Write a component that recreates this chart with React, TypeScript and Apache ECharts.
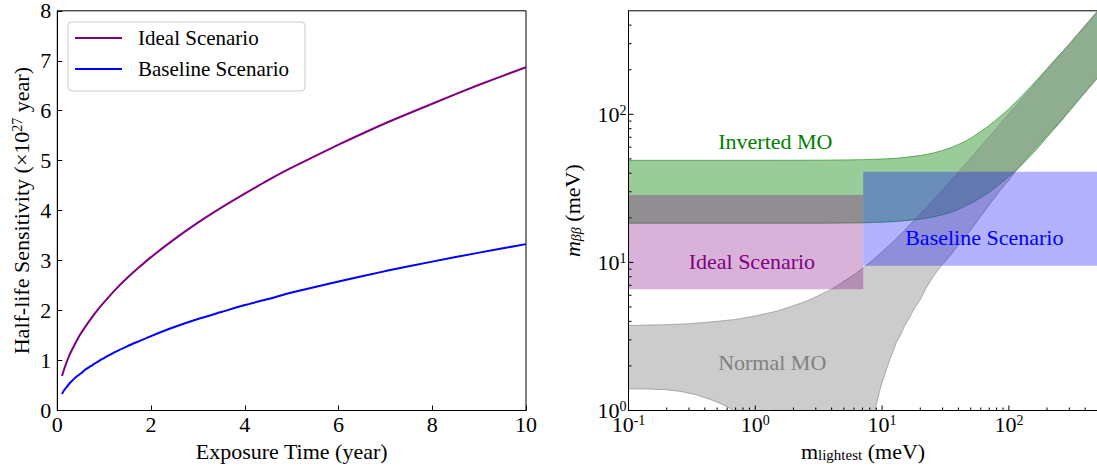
import React, { useEffect, useRef } from 'react';
import * as echarts from 'echarts';

const FONT = "'Liberation Serif', 'DejaVu Serif', serif";

// ---------- Left panel: half-life sensitivity vs exposure time ----------
const EXPOSURE_YEARS = [0.1, 0.12, 0.15, 0.2, 0.25, 0.3, 0.4, 0.5, 0.6, 0.75, 0.9, 1, 1.25, 1.5, 1.75, 2, 2.5, 3, 3.5, 4, 4.5, 5, 6, 7, 8, 9, 10];
const IDEAL_SENS = [0.69, 0.75, 0.84, 0.97, 1.09, 1.19, 1.37, 1.54, 1.68, 1.88, 2.06, 2.17, 2.43, 2.66, 2.87, 3.07, 3.43, 3.76, 4.06, 4.34, 4.61, 4.86, 5.32, 5.75, 6.14, 6.52, 6.87];
const BASELINE_SENS = [0.33, 0.365, 0.41, 0.47, 0.53, 0.58, 0.67, 0.74, 0.82, 0.91, 1.0, 1.05, 1.18, 1.29, 1.39, 1.49, 1.67, 1.83, 1.97, 2.11, 2.23, 2.36, 2.58, 2.79, 2.98, 3.16, 3.33];
const LEFT_SERIES_NAMES = ['Ideal Scenario', 'Baseline Scenario'];

// ---------- Right panel: m_bb vs m_lightest ----------
// Inverted ordering band
const IO_X = [0.1, 1, 3, 5, 7, 10, 13, 16, 20, 25, 30, 35, 40, 45, 50, 60, 70, 80, 90, 100, 120, 150, 180, 214, 250, 300, 400, 500];
const IO_UPPER = [48.9, 48.9, 49, 49.2, 49.4, 49.9, 50.5, 51.4, 52.7, 54.6, 57, 59.6, 62.6, 65.6, 69, 76.5, 84, 92.3, 100.5, 109, 127, 155, 184, 217, 252, 297, 395, 493];
const IO_LOWER = [18.4, 18.4, 18.4, 18.45, 18.5, 18.7, 18.9, 19.2, 19.6, 20.2, 21, 21.8, 22.8, 23.9, 25, 27.3, 29.7, 32.5, 35.2, 38, 43.5, 53, 63, 75, 87, 105, 141, 176];

// Normal ordering band
const NO_UP_X = [0.1, 0.2, 0.3, 0.5, 0.7, 1, 1.5, 2, 2.5, 3, 4, 5, 6, 7, 8.5, 10, 12, 15, 20, 25, 30, 40, 50, 70, 100, 150, 200, 300, 500];
const NO_UPPER = [3.75, 3.8, 3.85, 4.0, 4.12, 4.35, 4.7, 5.1, 5.45, 5.85, 6.6, 7.45, 8.25, 9.1, 10.4, 11.8, 13.6, 16.4, 21.3, 26, 30.8, 40.7, 50.7, 70.6, 100.5, 150, 200, 300, 500];
const NO_LOW_R_X = [500, 400, 300, 250, 200, 155, 120, 100, 85, 70, 60, 50, 40, 35, 28.7, 25, 22, 20, 18, 16.6, 15, 14, 13, 12.3, 11.5, 10.5, 10, 9.5, 9, 8.8, 8.5, 8.2];
const NO_LOW_R = [176, 141, 106, 88, 72, 57, 44, 36, 30.5, 24.5, 20.5, 16.5, 13.1, 11.3, 9.3, 7.9, 6.6, 5.6, 4.9, 4.3, 3.7, 3.25, 2.9, 2.55, 2.2, 1.75, 1.55, 1.32, 1.1, 1.0, 0.85, 0.6];
const NO_LOW_L_X = [1.0, 0.85, 0.75, 0.67, 0.6, 0.5, 0.45, 0.4, 0.35, 0.3, 0.25, 0.2, 0.15, 0.1];
const NO_LOW_L = [0.6, 0.85, 0.93, 1.0, 1.06, 1.14, 1.18, 1.22, 1.27, 1.31, 1.35, 1.38, 1.395, 1.40];

// Sensitivity boxes
const IDEAL_BOX_X = [0.1, 7.1];
const IDEAL_BOX_Y = [6.6, 28.5];
const BASE_BOX_X = [7.1, 500];
const BASE_BOX_Y = [9.5, 41];

// Annotations (data coordinates)
const ANNOT_TEXT = ['Inverted MO', 'Ideal Scenario', 'Baseline Scenario', 'Normal MO'];
const ANNOT_X = [1.44, 0.94, 64, 1.36];
const ANNOT_Y = [65.4, 10.1, 14.7, 2.12];
const ANNOT_COLOR = ['#008000', '#800080', '#0000ff', '#808080'];

// Log axis ticks
const X_MAJOR = [0.1, 1, 10, 100];
const X_MINOR = [0.2, 0.3, 0.4, 0.5, 0.6, 0.7, 0.8, 0.9, 2, 3, 4, 5, 6, 7, 8, 9, 20, 30, 40, 50, 60, 70, 80, 90, 200, 300, 400];
const Y_MAJOR = [1, 10, 100];
const Y_MINOR = [2, 3, 4, 5, 6, 7, 8, 9, 20, 30, 40, 50, 60, 70, 80, 90, 200, 300, 400];

const X_MIN_R = 0.1;
const X_MAX_R = 500;
const Y_MIN_R = 1;
const Y_MAX_R = 500;

function polygonSeries(name: string, verts: number[][], fill: string, stroke: string) {
  return {
    name,
    type: 'custom',
    xAxisIndex: 1,
    yAxisIndex: 1,
    clip: true,
    silent: true,
    data: verts,
    renderItem: (params: any, api: any) => {
      if (params.dataIndex !== 0) return null;
      const pts = verts.map((v) => api.coord(v));
      return {
        type: 'polygon',
        shape: { points: pts },
        style: { fill, stroke, lineWidth: 1 },
      };
    },
  };
}

function boxSeries(name: string, bx: number[], by: number[], fill: string) {
  return {
    name,
    type: 'custom',
    xAxisIndex: 1,
    yAxisIndex: 1,
    clip: true,
    silent: true,
    data: [[bx[0], by[0], bx[1], by[1]]],
    renderItem: (params: any, api: any) => {
      const p0 = api.coord([api.value(0), api.value(1)]);
      const p1 = api.coord([api.value(2), api.value(3)]);
      return {
        type: 'rect',
        shape: {
          x: Math.min(p0[0], p1[0]),
          y: Math.min(p0[1], p1[1]),
          width: Math.abs(p1[0] - p0[0]),
          height: Math.abs(p1[1] - p0[1]),
        },
        style: { fill },
      };
    },
  };
}

function tickSeries(name: string, values: number[], dir: 'x' | 'y', len: number) {
  return {
    name,
    type: 'custom',
    xAxisIndex: 1,
    yAxisIndex: 1,
    silent: true,
    z: 10,
    data: values.map((v) => (dir === 'x' ? [v, Y_MIN_R] : [X_MIN_R, v])),
    renderItem: (params: any, api: any) => {
      const p = api.coord([api.value(0), api.value(1)]);
      const shape =
        dir === 'x'
          ? { x1: p[0], y1: p[1], x2: p[0], y2: p[1] - len }
          : { x1: p[0], y1: p[1], x2: p[0] + len, y2: p[1] };
      return { type: 'line', shape, style: { stroke: '#000', lineWidth: 1 } };
    },
  };
}

const logLabelFormatter = (v: number) => {
  const l = Math.log10(v);
  const e = Math.round(l);
  if (Math.abs(l - e) > 1e-6) return '';
  return `{b|10}{s|${e}}`;
};

const logRich = {
  b: { fontSize: 22, lineHeight: 22, fontFamily: FONT, color: '#000' },
  s: { fontSize: 14, lineHeight: 14, verticalAlign: 'top', fontFamily: FONT, color: '#000' },
};

export default function App() {
  const ref = useRef<HTMLDivElement>(null);

  useEffect(() => {
    if (!ref.current) return;
    const chart = echarts.init(ref.current, null, { renderer: 'svg', width: 1097, height: 468 });

    const noVerts: number[][] = [
      ...NO_UP_X.map((x, i) => [x, NO_UPPER[i]]),
      ...NO_LOW_R_X.map((x, i) => [x, NO_LOW_R[i]]),
      ...NO_LOW_L_X.map((x, i) => [x, NO_LOW_L[i]]),
    ];
    const ioVerts: number[][] = [
      ...IO_X.map((x, i) => [x, IO_UPPER[i]]),
      ...IO_X.map((x, i) => [x, IO_LOWER[i]]).reverse(),
    ];

    const gridCommon = {
      show: true,
      borderColor: '#000',
      borderWidth: 1,
      backgroundColor: 'transparent',
      containLabel: false,
      outerBoundsMode: 'none',
    };

    const nameStyle = { color: '#000', fontSize: 22, fontFamily: FONT, lineHeight: 22 };

    const option: any = {
      animation: false,
      textStyle: { fontFamily: FONT },
      grid: [
        { ...gridCommon, left: 57.3, top: 10.8, width: 468.7, height: 399.7 },
        { ...gridCommon, left: 628.5, top: 10.8, width: 469, height: 399.7 },
      ],
      legend: {
        data: LEFT_SERIES_NAMES,
        orient: 'vertical',
        left: 68,
        top: 22,
        padding: [5, 16, 11, 7],
        icon: 'rect',
        itemWidth: 47,
        itemHeight: 2,
        itemGap: 9,
        borderColor: '#cccccc',
        borderWidth: 1,
        borderRadius: 4,
        backgroundColor: 'rgba(255,255,255,0.8)',
        selectedMode: false,
        textStyle: { fontSize: 21, fontFamily: FONT, color: '#000', lineHeight: 22, padding: [0, 0, 0, 11] },
      },
      xAxis: [
        {
          gridIndex: 0,
          type: 'value',
          min: 0,
          max: 10,
          interval: 2,
          axisLine: { show: true, onZero: false, lineStyle: { color: '#000', width: 1 } },
          axisTick: { show: true, inside: true, length: 5, lineStyle: { color: '#000', width: 1 } },
          axisLabel: { color: '#000', fontSize: 22, fontFamily: FONT, margin: 3 },
          splitLine: { show: false },
          name: 'Exposure Time (year)',
          nameLocation: 'middle',
          nameGap: 30,
          nameMoveOverlap: false,
          nameTextStyle: nameStyle,
        },
        {
          gridIndex: 1,
          type: 'log',
          logBase: 10,
          min: X_MIN_R,
          max: X_MAX_R,
          z: 10,
          axisLine: { show: true, onZero: false, lineStyle: { color: '#000', width: 1 } },
          axisTick: { show: false },
          minorTick: { show: false },
          axisLabel: { formatter: logLabelFormatter, rich: logRich, margin: 3 },
          splitLine: { show: false },
          name: 'm{sub|lightest} (meV)',
          nameLocation: 'middle',
          nameGap: 30,
          nameMoveOverlap: false,
          nameTextStyle: {
            ...nameStyle,
            rich: {
              sub: { fontSize: 15, lineHeight: 15, verticalAlign: 'bottom', fontFamily: FONT, color: '#000' },
            },
          },
        },
      ],
      yAxis: [
        {
          gridIndex: 0,
          type: 'value',
          min: 0,
          max: 8,
          interval: 1,
          axisLine: { show: true, onZero: false, lineStyle: { color: '#000', width: 1 } },
          axisTick: { show: true, inside: true, length: 5, lineStyle: { color: '#000', width: 1 } },
          axisLabel: { color: '#000', fontSize: 22, fontFamily: FONT, margin: 6, lineHeight: 20 },
          splitLine: { show: false },
          name: 'Half-life Sensitivity (×10{sup|27} year)',
          nameLocation: 'middle',
          nameRotate: 90,
          nameGap: 25,
          nameMoveOverlap: false,
          nameTextStyle: {
            ...nameStyle,
            rich: {
              sup: { fontSize: 14, lineHeight: 14, verticalAlign: 'top', fontFamily: FONT, color: '#000' },
            },
          },
        },
        {
          gridIndex: 1,
          type: 'log',
          logBase: 10,
          min: Y_MIN_R,
          max: Y_MAX_R,
          z: 10,
          axisLine: { show: true, onZero: false, lineStyle: { color: '#000', width: 1 } },
          axisTick: { show: false },
          minorTick: { show: false },
          axisLabel: { formatter: logLabelFormatter, rich: logRich, margin: 2 },
          splitLine: { show: false },
          name: '{i|m}{sub|ββ} (meV)',
          nameLocation: 'middle',
          nameRotate: 90,
          nameGap: 45,
          nameMoveOverlap: false,
          nameTextStyle: {
            ...nameStyle,
            rich: {
              i: { fontSize: 22, lineHeight: 22, fontStyle: 'italic', fontFamily: FONT, color: '#000' },
              sub: { fontSize: 14, lineHeight: 14, verticalAlign: 'bottom', fontStyle: 'italic', fontFamily: FONT, color: '#000' },
            },
          },
        },
      ],
      series: [
        {
          name: LEFT_SERIES_NAMES[0],
          type: 'line',
          xAxisIndex: 0,
          yAxisIndex: 0,
          data: EXPOSURE_YEARS.map((x, i) => [x, IDEAL_SENS[i]]),
          symbol: 'none',
          smooth: 0.2,
          color: '#800080',
          lineStyle: { color: '#800080', width: 2 },
        },
        {
          name: LEFT_SERIES_NAMES[1],
          type: 'line',
          xAxisIndex: 0,
          yAxisIndex: 0,
          data: EXPOSURE_YEARS.map((x, i) => [x, BASELINE_SENS[i]]),
          symbol: 'none',
          smooth: 0.2,
          color: '#0000ff',
          lineStyle: { color: '#0000ff', width: 2 },
        },
        polygonSeries('Inverted MO band', ioVerts, 'rgba(0,128,0,0.4)', 'rgba(0,128,0,0.55)'),
        polygonSeries('Normal MO band', noVerts, 'rgba(128,128,128,0.4)', 'rgba(128,128,128,0.6)'),
        boxSeries('Ideal box', IDEAL_BOX_X, IDEAL_BOX_Y, 'rgba(128,0,128,0.3)'),
        boxSeries('Baseline box', BASE_BOX_X, BASE_BOX_Y, 'rgba(0,0,255,0.3)'),
        {
          name: 'annotations',
          type: 'custom',
          xAxisIndex: 1,
          yAxisIndex: 1,
          silent: true,
          z: 5,
          data: ANNOT_X.map((x, i) => [x, ANNOT_Y[i]]),
          renderItem: (params: any, api: any) => {
            const p = api.coord([api.value(0), api.value(1)]);
            const i = params.dataIndex;
            return {
              type: 'text',
              x: p[0],
              y: p[1],
              style: {
                text: ANNOT_TEXT[i],
                fill: ANNOT_COLOR[i],
                fontSize: 22,
                fontFamily: FONT,
                align: 'center',
                verticalAlign: 'middle',
              },
            };
          },
        },
        tickSeries('x major ticks', X_MAJOR, 'x', 5),
        tickSeries('x minor ticks', X_MINOR, 'x', 3),
        tickSeries('y major ticks', Y_MAJOR, 'y', 5),
        tickSeries('y minor ticks', Y_MINOR, 'y', 3),
      ],
    };

    chart.setOption(option);
    return () => chart.dispose();
  }, []);

  return (
    <div
      ref={ref}
      style={{ position: 'absolute', left: 0, top: 0, width: 1097, height: 468, background: '#fff' }}
    />
  );
}
